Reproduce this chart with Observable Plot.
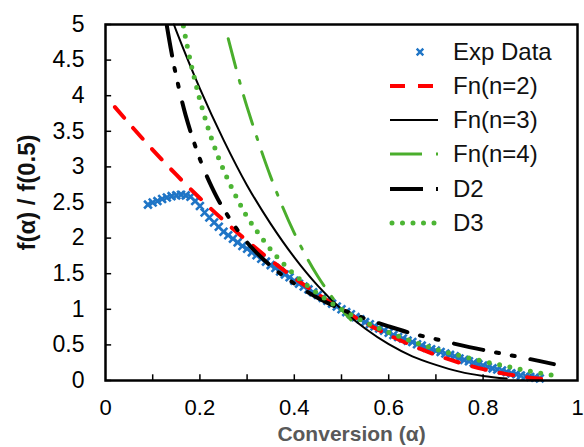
<!DOCTYPE html>
<html><head><meta charset="utf-8">
<script src="https://cdn.jsdelivr.net/npm/d3@7"></script>
<script src="https://cdn.jsdelivr.net/npm/@observablehq/plot@0.6"></script>
<style>
html,body{margin:0;padding:0;background:#fff;}
#wrap{position:relative;width:584px;height:447px;font-family:"Liberation Sans",Arial,sans-serif;}
#legend{position:absolute;left:0;top:0;pointer-events:none;}
</style></head><body><div id="wrap"></div>
<script>
// ---- data ----
const xTicks = [0, 0.2, 0.4, 0.6, 0.8, 1];
const xMinorTicks = [0.1, 0.2, 0.3, 0.4, 0.5, 0.6, 0.7, 0.8, 0.9];
const yTicks = [0, 0.5, 1, 1.5, 2, 2.5, 3, 3.5, 4, 4.5, 5];
const xTitle = "Conversion (α)";
const yTitle = "f(α) / f(0.5)";
const seriesNames = ["Exp Data", "Fn(n=2)", "Fn(n=3)", "Fn(n=4)", "D2", "D3"];

const expAlpha = [0.09,0.10,0.11,0.12,0.13,0.14,0.15,0.16,0.17,0.18,0.19,0.20,0.21,0.22,0.23,0.24,0.25,0.26,0.27,0.28,0.29,0.30,0.31,0.32,0.33,0.34,0.35,0.36,0.37,0.38,0.39,0.40,0.41,0.42,0.43,0.44,0.45,0.46,0.47,0.48,0.49,0.50,0.51,0.52,0.53,0.54,0.55,0.56,0.57,0.58,0.59,0.60,0.61,0.62,0.63,0.64,0.65,0.66,0.67,0.68,0.69,0.70,0.71,0.72,0.73,0.74,0.75,0.76,0.77,0.78,0.79,0.80,0.81,0.82,0.83,0.84,0.85,0.86,0.87,0.88,0.89,0.90,0.91,0.92];
const expVal = [2.47,2.50,2.52,2.55,2.57,2.59,2.60,2.61,2.60,2.58,2.52,2.45,2.36,2.29,2.22,2.16,2.09,2.04,1.99,1.94,1.89,1.85,1.80,1.76,1.71,1.67,1.62,1.58,1.53,1.49,1.45,1.40,1.36,1.32,1.28,1.24,1.20,1.16,1.12,1.08,1.04,1.00,0.96,0.93,0.89,0.86,0.82,0.79,0.76,0.73,0.70,0.67,0.64,0.61,0.59,0.56,0.54,0.51,0.49,0.46,0.44,0.42,0.40,0.38,0.36,0.34,0.31,0.29,0.27,0.25,0.23,0.21,0.19,0.17,0.155,0.14,0.12,0.10,0.09,0.07,0.06,0.05,0.04,0.03];

const fn2Alpha = [0.02,0.05,0.10,0.15,0.20,0.25,0.30,0.35,0.40,0.45,0.50,0.55,0.60,0.65,0.70,0.75,0.80,0.85,0.90,0.95];
const fn2Val   = [3.84,3.61,3.24,2.89,2.56,2.25,1.96,1.69,1.44,1.21,1.00,0.81,0.64,0.49,0.36,0.25,0.16,0.09,0.04,0.01];

const fn3Alpha = [0.145,0.15,0.20,0.25,0.30,0.35,0.40,0.45,0.50,0.55,0.60,0.65,0.70,0.75,0.80,0.85];
const fn3Val   = [5.00,4.91,4.10,3.38,2.74,2.20,1.73,1.33,1.00,0.73,0.51,0.34,0.22,0.125,0.064,0.027];

const fn4Alpha = [0.26,0.28,0.30,0.35,0.40,0.45,0.50,0.52];
const fn4Val   = [4.80,4.30,3.84,2.86,2.07,1.46,1.00,0.85];

const d2Alpha = [0.13,0.14,0.15,0.17,0.20,0.225,0.25,0.30,0.35,0.40,0.45,0.50,0.55,0.60,0.65,0.70,0.75,0.80,0.85,0.90,0.95];
const d2Val   = [4.98,4.60,4.27,3.72,3.11,2.72,2.41,1.94,1.61,1.36,1.16,1.00,0.87,0.76,0.66,0.58,0.50,0.43,0.365,0.30,0.23];

const d3Alpha = [0.165,0.17,0.18,0.19,0.20,0.22,0.24,0.26,0.28,0.30,0.35,0.40,0.45,0.50,0.55,0.60,0.65,0.70,0.75,0.80,0.85,0.90,0.95];
const d3Val   = [4.98,4.80,4.48,4.20,3.94,3.49,3.12,2.81,2.54,2.30,1.84,1.49,1.22,1.00,0.82,0.675,0.55,0.44,0.35,0.27,0.20,0.13,0.07];

const colors = {exp:"#1f75c6", fn2:"#ff0000", fn3:"#000000", fn4:"#4aae2c", d2:"#000000", d3:"#4cb534"};

const zip = (a, v) => a.map((x, i) => ({a: x, v: v[i]}));
const exp = zip(expAlpha, expVal), fn2 = zip(fn2Alpha, fn2Val), fn3 = zip(fn3Alpha, fn3Val),
      fn4 = zip(fn4Alpha, fn4Val), d2 = zip(d2Alpha, d2Val), d3 = zip(d3Alpha, d3Val);
const fmt = d => String(d);

const plot = Plot.plot({
  width: 584, height: 447,
  marginLeft: 105, marginRight: 7, marginTop: 24, marginBottom: 67,
  style: {fontFamily: "'Liberation Sans', Arial, sans-serif", fontSize: "24px", color: "#000", background: "#fff"},
  x: {domain: [0, 1]},
  y: {domain: [0, 5]},
  marks: [
    Plot.axisX(xTicks, {tickSize: 0, tickPadding: 19, tickFormat: fmt, label: null, fontSize: 22}),
    Plot.axisY(yTicks, {tickSize: 0, tickPadding: 21, tickFormat: fmt, label: null, fontSize: 23}),
    Plot.ruleX(xMinorTicks, {y1: 0, y2: 0.08, stroke: "#000", strokeWidth: 1.5}),
    Plot.ruleY(yTicks, {x1: 0, x2: 0.013, stroke: "#000", strokeWidth: 1.5}),
    Plot.dot(exp, {x: "a", y: "v", symbol: "times", r: 3.6, stroke: colors.exp, strokeWidth: 2.6}),
    Plot.line(fn2, {x: "a", y: "v", curve: "catmull-rom", stroke: colors.fn2, strokeWidth: 4, strokeDasharray: "14,14"}),
    Plot.line(fn3, {x: "a", y: "v", curve: "catmull-rom", stroke: colors.fn3, strokeWidth: 2}),
    Plot.line(fn4, {x: "a", y: "v", curve: "catmull-rom", stroke: colors.fn4, strokeWidth: 3, strokeDasharray: "30,13,3,13"}),
    Plot.line(d2, {x: "a", y: "v", curve: "catmull-rom", stroke: colors.d2, strokeWidth: 4, strokeDasharray: "30,13,3,13,3,16"}),
    Plot.line(d3, {x: "a", y: "v", curve: "catmull-rom", stroke: colors.d3, strokeWidth: 5, strokeDasharray: "0,10.5", strokeLinecap: "round"}),
    Plot.frame({stroke: "#000", strokeWidth: 2.5}),
    Plot.text([xTitle], {frameAnchor: "bottom", text: d => d, dx: 10, dy: 54, lineAnchor: "middle", textAnchor: "middle", fontWeight: "bold", fill: "#595959", fontSize: 21}),
    Plot.text([yTitle], {frameAnchor: "left", text: d => d, rotate: -90, dx: -78, dy: -10, lineAnchor: "middle", textAnchor: "middle", fontWeight: "bold", fill: "#111", fontSize: 24})
  ]
});
const wrap = document.getElementById("wrap");
wrap.appendChild(plot);

// ---- legend (overlay inside plot area) ----
const NS = "http://www.w3.org/2000/svg";
const lg = document.createElementNS(NS, "svg");
lg.setAttribute("id", "legend");
lg.setAttribute("width", 584);
lg.setAttribute("height", 447);
wrap.appendChild(lg);
function el(tag, attrs) {
  const e = document.createElementNS(NS, tag);
  for (const k in attrs) if (attrs[k] != null) e.setAttribute(k, attrs[k]);
  lg.appendChild(e);
  return e;
}
const rowY = [52, 86, 120, 154, 189, 223];
const styles = [
  null,
  {stroke: colors.fn2, w: 4, dash: "15,13"},
  {stroke: colors.fn3, w: 2, dash: null},
  {stroke: colors.fn4, w: 3, dash: "32,14,3,20"},
  {stroke: colors.d2, w: 4, dash: "33,13,3,20"},
  {stroke: colors.d3, w: 5, dash: "0,10.5", cap: "round"}
];
seriesNames.forEach((name, i) => {
  const y = rowY[i];
  if (i === 0) {
    const s = 3.3;
    el("path", {d: `M${420-s},${y-s}L${420+s},${y+s}M${420-s},${y+s}L${420+s},${y-s}`,
      stroke: colors.exp, "stroke-width": 2.4, fill: "none"});
  } else {
    const st = styles[i];
    el("line", {x1: i === 5 ? 392 : 390, x2: 438, y1: y, y2: y, stroke: st.stroke,
      "stroke-width": st.w, "stroke-dasharray": st.dash, "stroke-linecap": st.cap || "butt"});
  }
  const t = el("text", {x: 453, y: y, dy: "0.35em", "font-size": 24,
    "font-family": "'Liberation Sans', Arial, sans-serif", fill: "#111"});
  t.textContent = name;
});
</script></body></html>
